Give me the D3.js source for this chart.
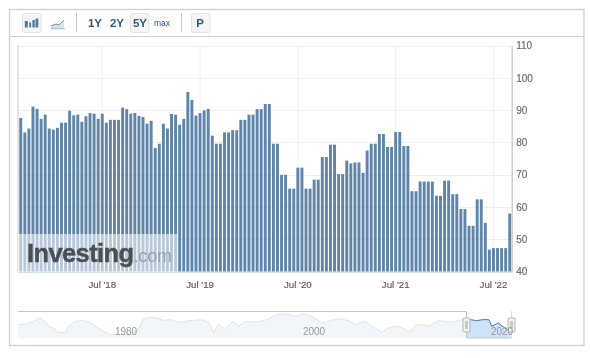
<!DOCTYPE html>
<html><head><meta charset="utf-8">
<script src="https://cdn.jsdelivr.net/npm/d3@7/dist/d3.min.js"></script>
<style>
html,body{margin:0;padding:0;background:#fff;overflow:hidden}
svg{display:block;filter:blur(0.35px);font-family:"Liberation Sans",Arial,sans-serif}
</style></head><body>
<svg id="c" width="590" height="358"></svg>
<script>
const barValues = [87.6,83.1,84.3,91.1,90.4,87.3,88.6,84.3,84,84.5,86.1,86.1,89.8,88.4,88.6,86.4,88.1,89.1,88.9,87.3,
88.9,86.1,87,87,87,90.8,90.3,88.9,89.1,88.2,87.9,85.8,86.7,78.3,79.6,85.8,84.3,88.8,88.6,85.5,
87.3,95.6,93.2,88.3,89.1,89.9,90.4,82.1,79.6,79.6,83.1,83.1,83.8,83.8,87,87,88.6,88.6,90.3,90.3,
91.9,91.9,79.6,79.6,70,70,65.7,65.7,72.2,72.2,65.7,65.7,68.5,68.5,75.5,75.5,79.3,79.3,70.2,70.2,
74.4,73.5,73.8,73.8,70.6,77.5,79.6,79.6,82.6,82.6,78.6,78.6,83.2,83.2,78.9,78.9,64.9,64.9,67.9,67.9,
67.9,67.9,63.5,63.5,68.2,68.2,64,64,59.4,59.4,54.2,54.2,62.4,62.4,55.1,46.8,47.3,47.3,47.3,47.3,58];
const xTickBars = [20,44,68,92,116];
const xTickLabels = ["Jul '18","Jul '19","Jul '20","Jul '21","Jul '22"];
const yTicks = [40,50,60,70,80,90,100,110];
const navYears = [1968.5,1969.3,1970.1,1970.7,1971,1971.4,1971.9,1972.4,1972.8,1973.2,1973.5,1973.9,1974.6,1975.5,1976.2,1976.9,1977.6,1978.3,1978.8,1980.6,1981.5,1981.8,1982.6,1983.3,1984,1984.7,1985.7,1986.8,1987.9,1988.8,1989.3,1989.8,1990.5,1991.4,1992,1992.7,1993.9,1995,1996,1997.1,1998,1998.9,1999.8,2000.8,2001.5,2002.6,2003.7,2004.4,2005.4,2006.5,2007.2,2007.9,2008.6,2009.3,2010.2,2010.8,2011.7,2012.2,2013.2,2014.7,2015.9,2016.6,2017.3,2018,2018.6,2018.9,2019.6,2020.3,2020.9];
const navValues = [80,82,88,98,99,88,73,68,55,58,53,75,90,92,87,72,60,50,50,50,75,95,102,100,93,95,87,92,95,88,57,80,68,90,75,90,88,95,110,112,105,113,105,85,90,98,92,80,90,70,57,70,75,72,58,78,80,75,92,88,95,95,92,95,95,75,85,70,58];
const navLabels = [1980,2000,2020];
const rangeButtons = ["1Y","2Y","5Y","max"];

const svg = d3.select("#c");
const x = d3.scaleBand().domain(d3.range(barValues.length)).range([18.7,511.8]).paddingInner(0.28).paddingOuter(0.14);
const y = d3.scaleLinear().domain([40,110]).range([271.7,45.5]);
const navX = d3.scaleLinear().domain([1980,2020]).range([126,502]);
const navY = d3.scaleLinear().domain([40,112]).range([338,314]);

// frame and toolbar
svg.append("rect").attr("x",9.5).attr("y",9.5).attr("width",574.5).attr("height",336).attr("fill","#fff").attr("stroke","#cfcfcf").attr("stroke-width",1.3);
svg.append("line").attr("x1",9.5).attr("x2",584).attr("y1",36.5).attr("y2",36.5).attr("stroke","#d0d0d0").attr("stroke-width",1.2);
const btn=(bx,w)=>svg.append("rect").attr("x",bx).attr("y",13.5).attr("width",w).attr("height",19).attr("rx",2).attr("fill","#f3f5f7").attr("stroke","#e0e2e5");
btn(22.5,18.5);btn(130.5,18.5);btn(191.5,18.5);
[[24.8,21,3],[29.2,22.5,1.9],[32.4,20,2.4],[35.5,18.5,2.8]].forEach(b=>svg.append("rect").attr("x",b[0]).attr("y",b[1]).attr("width",b[2]).attr("height",27.5-b[1]).attr("fill","#4f7aa5"));
svg.append("path").attr("d","M51,28.5V26L56,24L59,25L64,20V28.5Z").attr("fill","#dbe4ee");
svg.append("path").attr("d","M51,26L56,24L59,25L64,20").attr("fill","none").attr("stroke","#6f93b6").attr("stroke-width",1);
svg.append("line").attr("x1",51).attr("x2",65).attr("y1",28.7).attr("y2",28.7).attr("stroke","#9db5cc");
[76.5,181.5].forEach(s=>svg.append("line").attr("x1",s).attr("x2",s).attr("y1",13).attr("y2",32.5).attr("stroke","#c4c8cc"));
const btnX=[95,117,140,162];
rangeButtons.forEach((t,i)=>svg.append("text").attr("x",btnX[i]).attr("y",i==3?26:27).attr("text-anchor","middle").attr("font-size",i==3?8.5:11.5).attr("font-weight",i==3?"normal":"bold").attr("fill","#33587f").text(t));
svg.append("text").attr("x",200).attr("y",27).attr("text-anchor","middle").attr("font-size",11.5).attr("font-weight","bold").attr("fill","#33587f").text("P");

// grid
const g = svg.append("g");
g.selectAll(".h").data(yTicks).join("line").attr("x1",18).attr("x2",511).attr("y1",d=>Math.round(y(d))+.5).attr("y2",d=>Math.round(y(d))+.5).attr("stroke","#eeeeee");
g.selectAll(".v").data(xTickBars).join("line").attr("x1",d=>x(d)+x.bandwidth()/2).attr("x2",d=>x(d)+x.bandwidth()/2).attr("y1",45).attr("y2",272).attr("stroke","#f0f0f0");

// bars
svg.append("g").selectAll("rect").data(barValues).join("rect")
 .attr("x",(d,i)=>x(i)).attr("width",x.bandwidth()).attr("y",d=>y(d)).attr("height",d=>y(40)-y(d)).attr("fill","#6085ab");

// axis lines
svg.append("line").attr("x1",18).attr("x2",18).attr("y1",45).attr("y2",272).attr("stroke","#d4d4d4").attr("stroke-width",1.2);
svg.append("line").attr("x1",18).attr("x2",512).attr("y1",272).attr("y2",272).attr("stroke","#c8d3de");

const ya = svg.append("g").attr("transform","translate(511.7,0)").call(d3.axisRight(y).tickValues(yTicks).tickSize(0).tickPadding(4.5));
ya.select(".domain").attr("stroke","#c4c4c4").attr("stroke-width",1.2);
ya.selectAll("text").attr("font-size",10).attr("font-family","inherit").attr("fill","#6e6e6e").attr("stroke","#6e6e6e").attr("stroke-width",0.2);
const xa = svg.append("g").attr("transform","translate(0,272)").call(d3.axisBottom(x).tickValues(xTickBars).tickSize(0).tickPadding(9).tickFormat((d,i)=>xTickLabels[i]));
xa.select(".domain").remove();
xa.selectAll("text").attr("font-size",9.7).attr("font-family","inherit").attr("fill","#5a5a5a").attr("stroke","#5a5a5a").attr("stroke-width",0.15);

// watermark
svg.append("rect").attr("x",18).attr("y",234).attr("width",159.5).attr("height",38).attr("fill","#fff").attr("fill-opacity",0.55);
const wm = svg.append("text").attr("x",27).attr("y",262).attr("font-size",25.5).attr("letter-spacing",-0.6).attr("font-weight","bold").attr("fill","#4b4f55").attr("stroke","#4b4f55").attr("stroke-width",0.4);
wm.append("tspan").text("Investing");
wm.append("tspan").attr("font-weight","normal").attr("font-size",18).attr("letter-spacing",-0.2).attr("stroke","none").attr("fill","#9a9fa6").text(".com");

// navigator
const pts = navYears.map((yr,i)=>[yr,navValues[i]]);
const area = d3.area().x(d=>navX(d[0])).y0(navY(40)).y1(d=>navY(d[1]));
const line = d3.line().x(d=>navX(d[0])).y(d=>navY(d[1]));
svg.append("defs").append("clipPath").attr("id","sel").append("rect").attr("x",466.5).attr("y",305).attr("width",45).attr("height",40);
svg.append("path").datum(pts).attr("d",area).attr("fill","#f2f6fb");
svg.append("path").datum(pts).attr("d",line).attr("fill","none").attr("stroke","#dbe4ed").attr("stroke-width",1);
const sel = svg.append("g").attr("clip-path","url(#sel)");
sel.append("path").datum(pts).attr("d",area).attr("fill","#cfe3f8");
sel.append("path").datum(pts).attr("d",line).attr("fill","none").attr("stroke","#4f7ba6").attr("stroke-width",1);
svg.append("line").attr("x1",466.5).attr("x2",511.5).attr("y1",338).attr("y2",338).attr("stroke","#b9c8d8").attr("stroke-width",1.2);
svg.append("line").attr("x1",18).attr("x2",466.5).attr("y1",311.5).attr("y2",311.5).attr("stroke","#c4c4c4");
svg.append("line").attr("x1",466.5).attr("x2",466.5).attr("y1",311.5).attr("y2",338).attr("stroke","#c4c4c4");
svg.append("line").attr("x1",511.5).attr("x2",511.5).attr("y1",311).attr("y2",338).attr("stroke","#dcdcdc");
[466.5,511.5].forEach(h=>{
 svg.append("rect").attr("x",h-3.5).attr("y",318).attr("width",7).attr("height",14).attr("rx",1).attr("fill","#f2f2f2").attr("stroke","#b5b5b5");
 svg.append("rect").attr("x",h-1.5).attr("y",321).attr("width",3).attr("height",8).attr("fill","#c8c8c8");
});
svg.selectAll(".nl").data(navLabels).join("text").attr("x",d=>navX(d)).attr("y",334.5).attr("text-anchor","middle").attr("font-size",10).attr("fill","#999").text(d=>d);
</script>
</body></html>
